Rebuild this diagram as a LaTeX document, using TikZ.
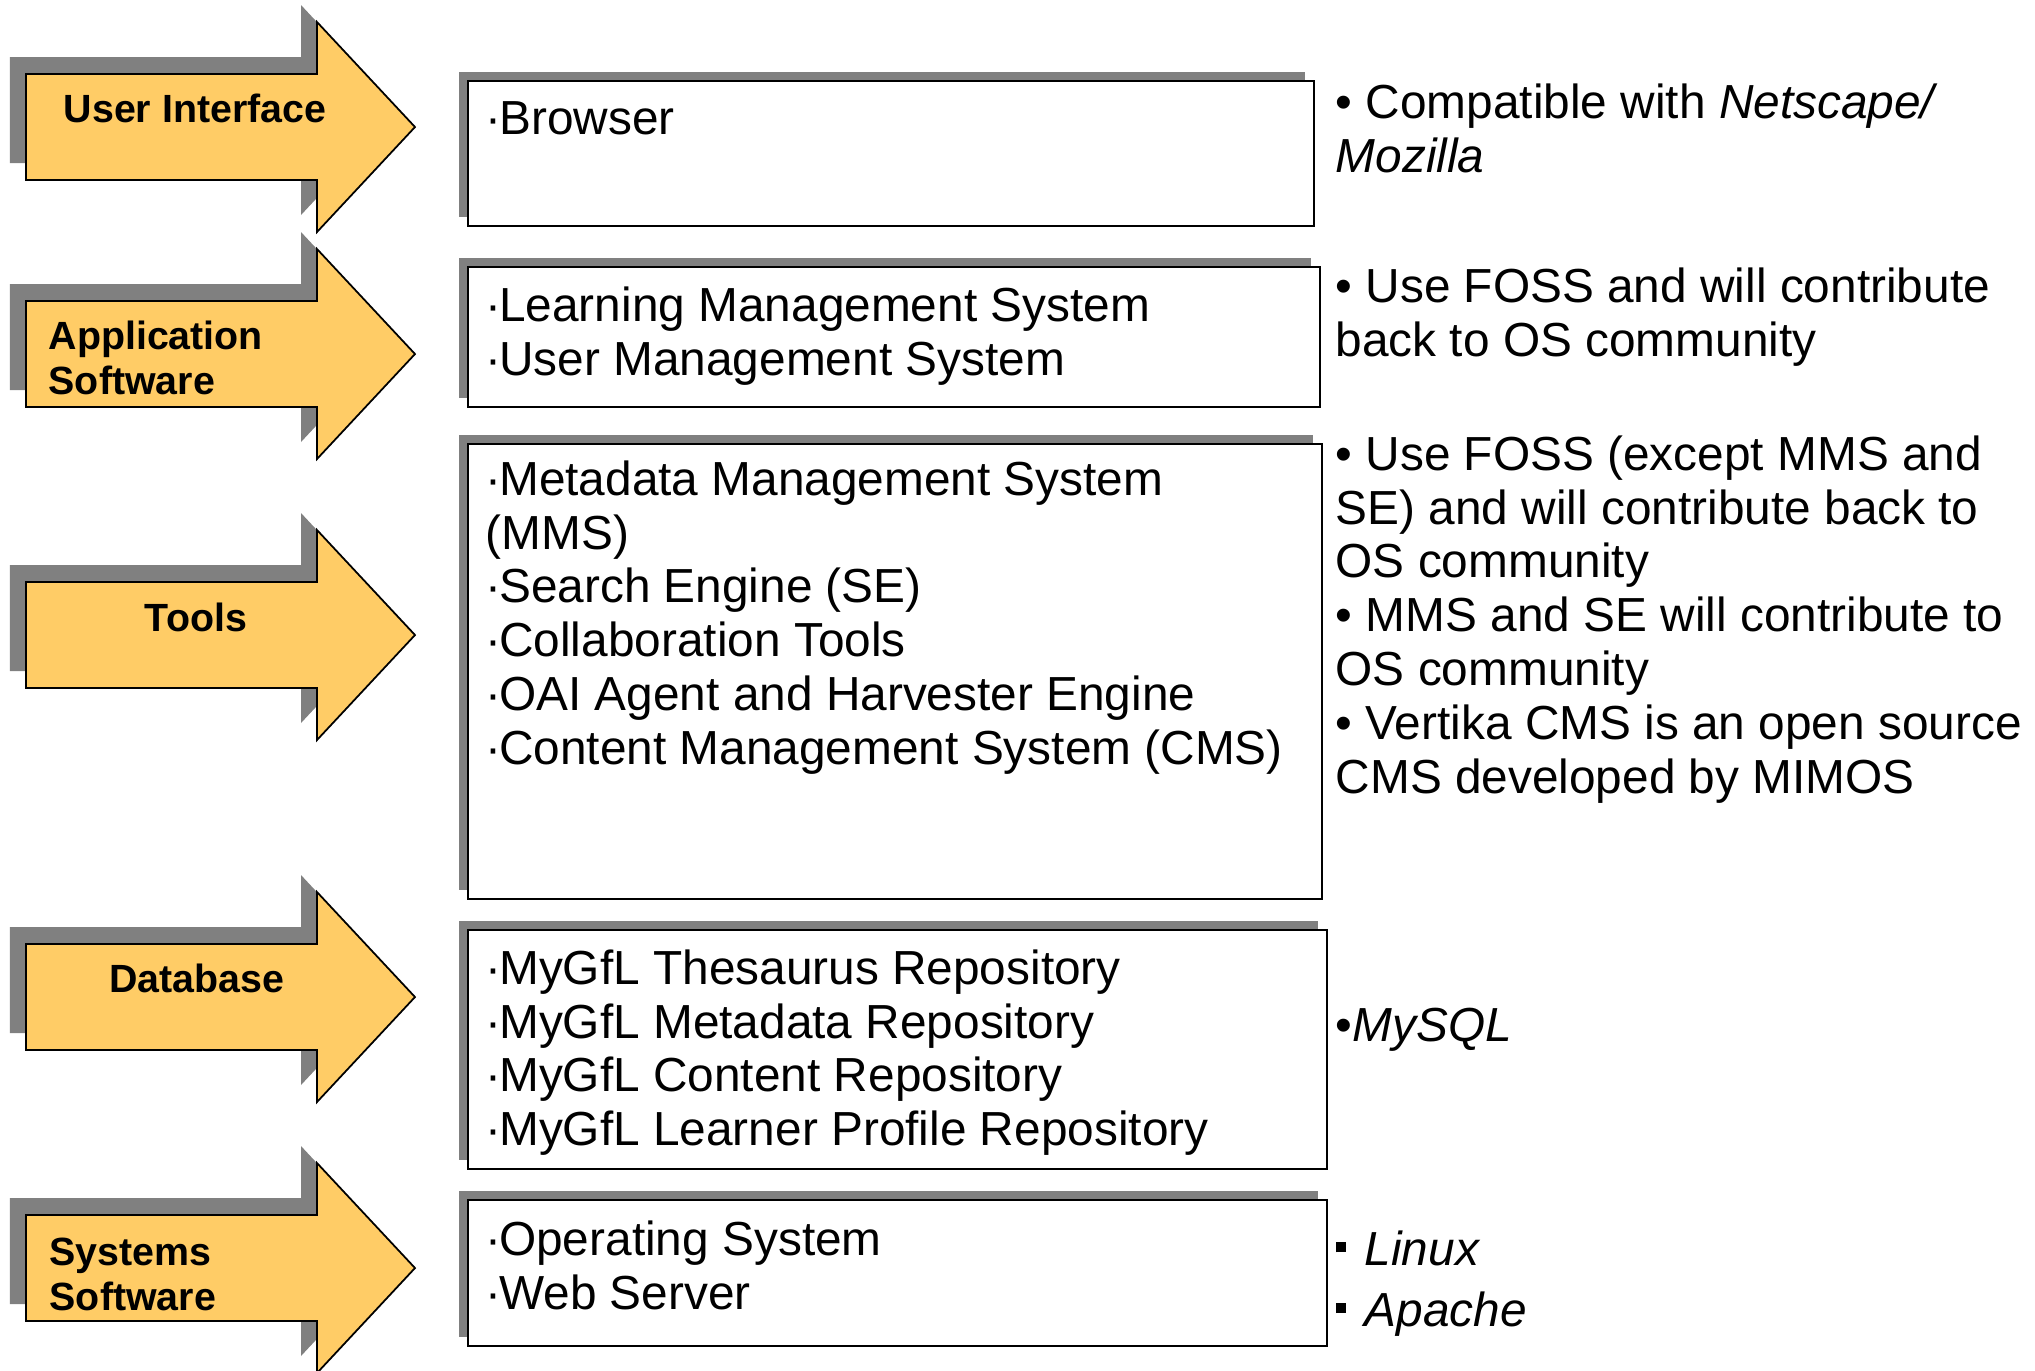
\documentclass[tikz,border=0pt]{standalone}
\usepackage{fontspec}
\setmainfont{Liberation Sans}
\usepackage{tikz}
\usetikzlibrary{positioning, shadows}
\definecolor{layerfill}{HTML}{FFCC66}
\definecolor{shadowgray}{HTML}{808080}
\newcommand{\dotitem}{·\kern-0.05em} % tight middle dot in front of each item
\newcommand{\squareitem}{\raisebox{1.3mm}{\rule{1mm}{1mm}}\hspace{1.9mm}}
\tikzset{
layer arrow/.pic={ % grey copy behind, then the orange arrow
    \fill[shadowgray, shift={(-0.16,0.17)}] (0,0.53) -- (2.91,0.53) -- (2.91,1.05) -- (3.89,0) -- (2.91,-1.05) -- (2.91,-0.53) -- (0,-0.53) -- cycle;
    \filldraw[fill=layerfill, draw=black, line width=0.5pt] (0,0.53) -- (2.91,0.53) -- (2.91,1.05) -- (3.89,0) -- (2.91,-1.05) -- (2.91,-0.53) -- (0,-0.53) -- cycle;
},
layer label/.style={font=\bfseries\fontsize{11.2}{13}\selectfont, inner sep=0}, % text on the arrows
part box/.style={draw, line width=0.7pt, fill=white, anchor=north west, inner sep=0,
    general shadow={fill=shadowgray, shadow xshift=-0.09cm, shadow yshift=0.09cm}}, % boxes in the middle
items/.style={anchor=north west, align=left, inner sep=0, font=\fontsize{13.6}{15.3}\selectfont}, % text in the boxes
notes/.style={anchor=north west, align=left, inner sep=0, font=\fontsize{13.6}{15.3}\selectfont}, % text on the right
}

\begin{document}
\begin{tikzpicture}
    \useasboundingbox (0,0) rectangle (20.35,-13.70);
    % arrows on the left
    \pic (ui arrow) at (0.26,-1.27) {layer arrow};
    \pic (app arrow) at (0.26,-3.54) {layer arrow};
    \pic (tools arrow) at (0.26,-6.35) {layer arrow};
    \pic (db arrow) at (0.26,-9.97) {layer arrow};
    \pic (sys arrow) at (0.26,-12.68) {layer arrow};
    \node[layer label, anchor=base west] (ui label) at (0.63,-1.22) {User Interface};
    \node[layer label, anchor=north west, align=left] (app label) at (0.48,-3.20) {Application\\Software};
    \node[layer label, anchor=base] (tools label) at (1.96,-6.31) {Tools};
    \node[layer label, anchor=base] (db label) at (1.97,-9.92) {Database};
    \node[layer label, anchor=north west, align=left] (sys label) at (0.49,-12.37) {Systems\\Software};
    % boxes
    \node[part box, minimum width=8.46cm, minimum height=1.45cm] (ui box) at (4.67,-0.80) {};
    \node[part box, minimum width=8.52cm, minimum height=1.40cm] (app box) at (4.67,-2.66) {};
    \node[part box, minimum width=8.54cm, minimum height=4.55cm] (tools box) at (4.67,-4.43) {};
    \node[part box, minimum width=8.59cm, minimum height=2.39cm] (db box) at (4.67,-9.29) {};
    \node[part box, minimum width=8.59cm, minimum height=1.46cm] (sys box) at (4.67,-11.99) {};
    \node[items, below right=0.21cm and 0.18cm of ui box.north west] (ui items) {\dotitem Browser};
    \node[items, below right=0.20cm and 0.18cm of app box.north west] (app items)
        {\dotitem Learning Management System\\\dotitem User Management System};
    \node[items, below right=0.17cm and 0.18cm of tools box.north west] (tools items)
        {\dotitem Metadata Management System\\(MMS)\\\dotitem Search Engine (SE)\\\dotitem Collaboration Tools\\\dotitem OAI Agent and Harvester Engine\\\dotitem Content Management System (CMS)};
    \node[items, below right=0.20cm and 0.18cm of db box.north west] (db items)
        {\dotitem MyGfL Thesaurus Repository\\\dotitem MyGfL Metadata Repository\\\dotitem MyGfL Content Repository\\\dotitem MyGfL Learner Profile Repository};
    \node[items, below right=0.21cm and 0.18cm of sys box.north west] (sys items)
        {\dotitem Operating System\\\dotitem Web Server};
    % notes on the right
    \node[notes] (ui note) at (13.35,-0.83) {• Compatible with \textit{Netscape/}\\\textit{Mozilla}};
    \node[notes] (app note) at (13.35,-2.67) {• Use FOSS and will contribute\\back to OS community};
    \node[notes] (tools note) at (13.35,-4.35)
        {• Use FOSS (except MMS and\\SE) and will contribute back to\\OS community\\• MMS and SE will contribute to\\OS community\\• Vertika CMS is an open source\\CMS developed by MIMOS};
    \node[notes] (db note) at (13.35,-10.07) {•\textit{MySQL}};
    \node[notes] (sys note) at (13.35,-12.30)
        {\squareitem\textit{Linux}\\[2pt]\squareitem\textit{Apache}};
\end{tikzpicture}
\end{document}
